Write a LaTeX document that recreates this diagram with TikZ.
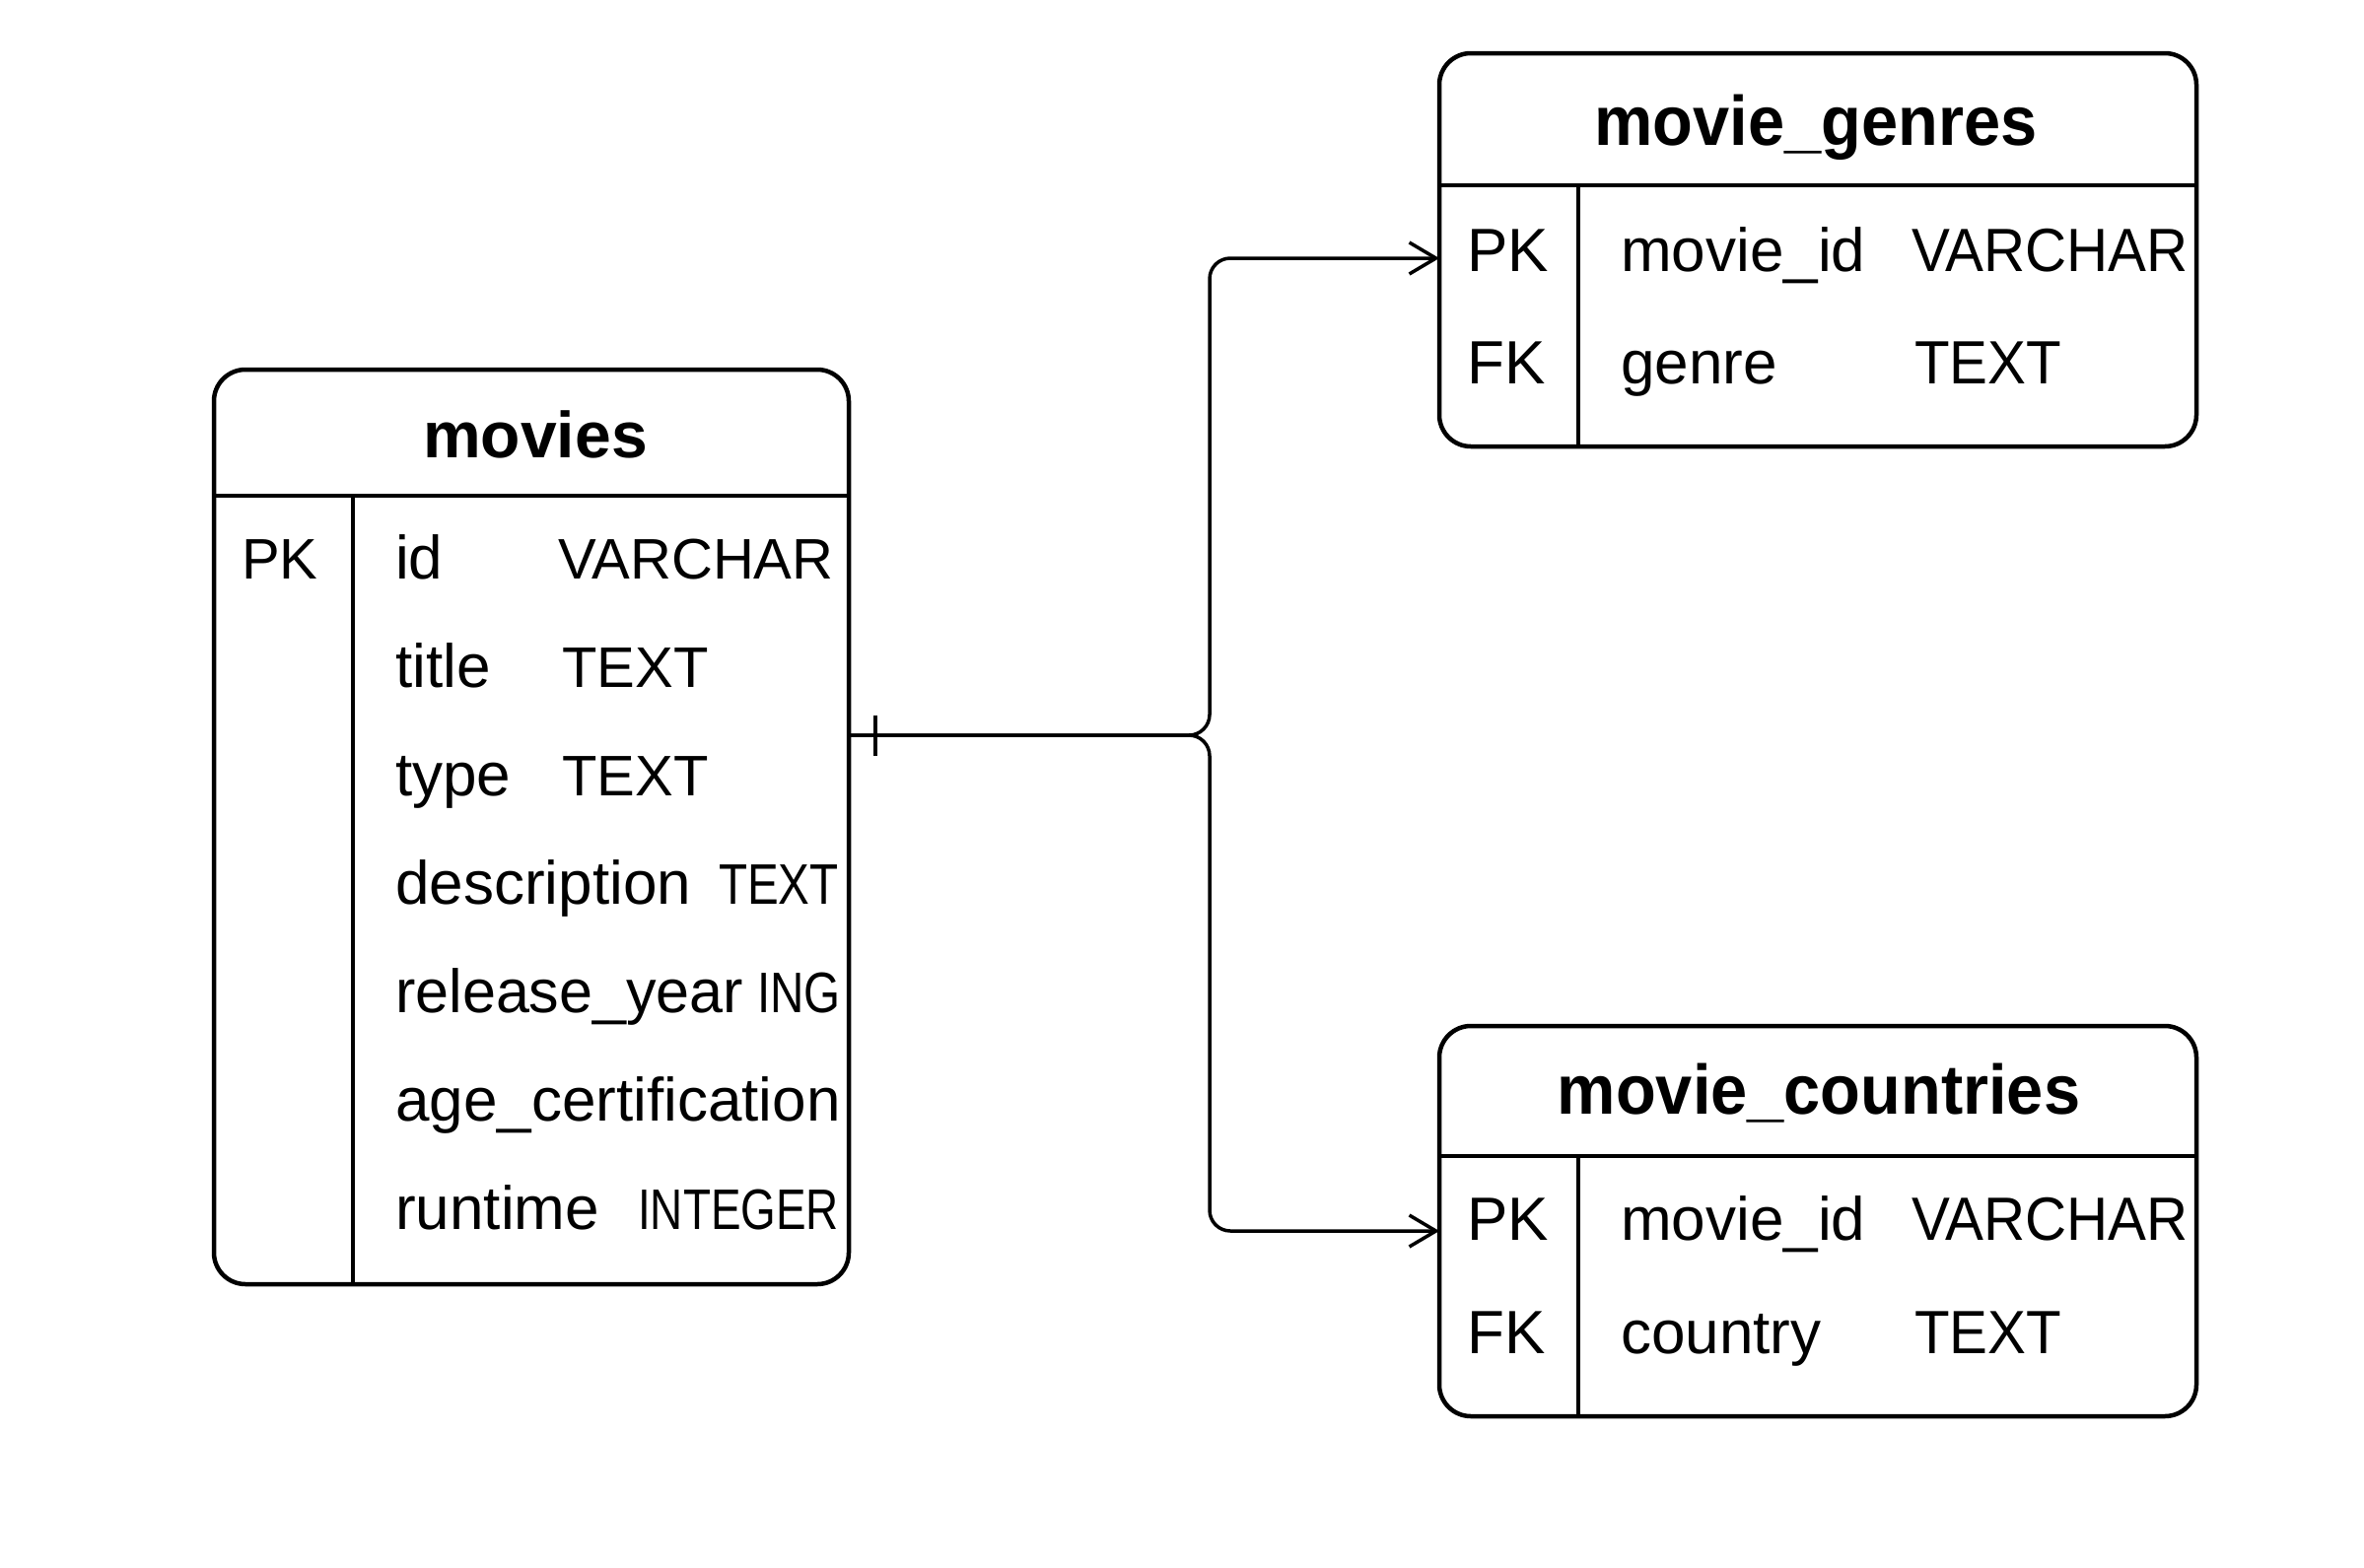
\documentclass[tikz,border=0pt]{standalone}
\usepackage{fontspec}
\setmainfont{Liberation Sans}
\newfontfamily\condfont{Liberation Sans}[FakeStretch=0.94]
\usepackage{graphicx}
\usetikzlibrary{arrows.meta}
\tikzset{
  tbl/.style={draw, line width=4.5pt, rounded corners=32pt, inner sep=0pt, outer sep=0pt},
  sep/.style={line width=4.5pt},
  conn/.style={line width=3.5pt, rounded corners=21pt},
  fld/.style={anchor=base west, inner sep=0pt, font=\fontsize{62}{64}\selectfont},
  typ/.style={anchor=base west, inner sep=0pt, font=\fontsize{58}{60}\selectfont},
  cfld/.style={anchor=base west, inner sep=0pt, font=\fontsize{62}{64}\selectfont},
  ctyp/.style={anchor=base west, inner sep=0pt, font=\condfont\fontsize{62}{64}\selectfont},
  ttl/.style={anchor=base, inner sep=0pt, font=\bfseries\fontsize{66}{68}\selectfont},
  cttl/.style={anchor=base, inner sep=0pt, font=\condfont\bfseries\fontsize{71}{73}\selectfont},
  arr/.style={-{Straight Barb[length=27pt,width=32pt,line width=3.5pt]}}
}
\begin{document}
\begin{tikzpicture}[x=1pt,y=-1pt]
\useasboundingbox (0,0) rectangle (2398,1590);
\fill[white] (0,0) rectangle (2398,1590);

% tables
\node[tbl, minimum width=644pt, minimum height=928pt] (movies) at (539,839) {};
\node[tbl, minimum width=768pt, minimum height=399pt] (genres) at (1844,253.5) {};
\node[tbl, minimum width=768pt, minimum height=396pt] (countries) at (1844,1239) {};

% movies
\coordinate (mcol) at (358,503);
\draw[sep] (movies.west |- mcol) -- (movies.east |- mcol);
\draw[sep] (mcol) -- (mcol |- movies.south);
\node[ttl] (mt) at (543,464) {movies};
\node[typ] (mpk) at (245,587) {PK};
\node[fld] (m1) at (401,587) {id};
\node[typ] (m1t) at (566,587) {VARCHAR};
\node[fld] (m2) at (401,697) {title};
\node[typ] (m2t) at (570,697) {TEXT};
\node[fld] (m3) at (401,807) {type};
\node[typ] (m3t) at (570,807) {TEXT};
\node[fld] (m4) at (401,917) {description};
\node[typ] (m4t) at (729,917) {\scalebox{0.82}[1]{TEXT}};
\node[fld] (m5) at (401,1027) {\scalebox{0.985}[1]{release\_year}};
\node[typ] (m5t) at (768,1027) {\scalebox{0.82}[1]{ING}};
\node[fld] (m6) at (401,1137) {age\_certification};
\node[fld] (m7) at (401,1247) {runtime};
\node[typ] (m7t) at (647,1247) {\scalebox{0.79}[1]{INTEGER}};

% movie_genres
\coordinate (gcol) at (1601,188);
\draw[sep] (genres.west |- gcol) -- (genres.east |- gcol);
\draw[sep] (gcol) -- (gcol |- genres.south);
\node[cttl] (gt) at (1842,147) {movie\_genres};
\node[cfld] (gpk) at (1488,275) {PK};
\node[cfld] (g1) at (1644,275) {movie\_id};
\node[ctyp] (g1t) at (1939,275) {VARCHAR};
\node[cfld] (gfk) at (1488,389) {FK};
\node[cfld] (g2) at (1644,389) {genre};
\node[ctyp] (g2t) at (1942,389) {TEXT};

% movie_countries
\coordinate (ccol) at (1601,1173);
\draw[sep] (countries.west |- ccol) -- (countries.east |- ccol);
\draw[sep] (ccol) -- (ccol |- countries.south);
\node[cttl] (ct) at (1845,1130) {movie\_countries};
\node[cfld] (cpk) at (1488,1258) {PK};
\node[cfld] (c1) at (1644,1258) {movie\_id};
\node[ctyp] (c1t) at (1939,1258) {VARCHAR};
\node[cfld] (cfk) at (1488,1373) {FK};
\node[cfld] (c2) at (1644,1373) {country};
\node[ctyp] (c2t) at (1942,1373) {TEXT};

% connectors
\coordinate (j) at (1227,746);
\coordinate (gy) at (0,262);
\coordinate (cy) at (0,1249);
\draw[conn, arr] (movies.east |- j) -- (j) -- (j |- gy) -- (genres.west |- gy);
\draw[conn, arr] (movies.east |- j) -- (j) -- (j |- cy) -- (countries.west |- cy);
\coordinate (tk) at (888,746);
\draw[line width=3.5pt] (tk) ++(0,-20) -- ++(0,41);
\end{tikzpicture}
\end{document}
